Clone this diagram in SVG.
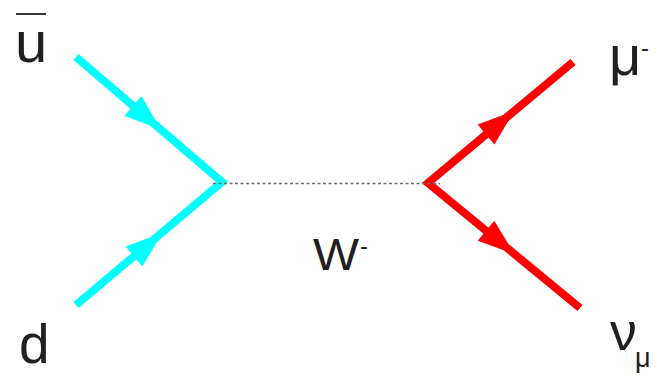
<svg xmlns="http://www.w3.org/2000/svg" xmlns:xlink="http://www.w3.org/1999/xlink" width="658" height="376" viewBox="0 0 658 376">
<style>
.lbl{font-family:"Liberation Sans",Arial,sans-serif;fill:#231f20}
.q{fill:none;stroke:#00ffff;stroke-width:8;stroke-linejoin:miter;stroke-miterlimit:10}
.l{fill:none;stroke:#ff0000;stroke-width:8;stroke-linejoin:miter;stroke-miterlimit:10}
.w{fill:none;stroke:#6d6d6d;stroke-width:1.3;stroke-dasharray:3 2.5}
</style>
<defs>
<path id="ah" d="M0,-13 L37,0 L0,13 Z"/>
</defs>
<rect width="658" height="376" fill="#ffffff"/>
<g id="connectors">
<polyline class="q" points="76,57 222,182 76,305"/>
<use xlink:href="#ah" fill="#00ffff" transform="translate(133,105.8) rotate(40.57)"/>
<use xlink:href="#ah" fill="#00ffff" transform="translate(134,256.5) rotate(-39.88)"/>
<polyline class="l" points="573,62 428,183 580,308"/>
<use xlink:href="#ah" fill="#ff0000" transform="translate(486,134.6) rotate(-39.84)"/>
<use xlink:href="#ah" fill="#ff0000" transform="translate(486,230.7) rotate(39.43)"/>
<line class="w" x1="213" y1="183.5" x2="440" y2="183.5"/>
</g>
<g id="ubar">
<line x1="16" y1="14" x2="46" y2="14" stroke="#231f20" stroke-width="1.8"/>
<text class="lbl" x="15" y="62" font-size="58">u</text>
</g>
<g id="d">
<text class="lbl" x="19" y="363" font-size="55">d</text>
</g>
<g id="muon">
<text class="lbl" x="609" y="75" font-size="56">μ</text>
<text class="lbl" x="641" y="56" font-size="24">-</text>
</g>
<g id="numu">
<text class="lbl" x="610" y="350" font-size="54">ν</text>
<text class="lbl" x="635" y="367" font-size="27">μ</text>
</g>
<g id="W">
<text class="lbl" x="313" y="270" font-size="44" textLength="46" lengthAdjust="spacingAndGlyphs">W</text>
<text class="lbl" x="360" y="254" font-size="24">-</text>
</g>
</svg>
